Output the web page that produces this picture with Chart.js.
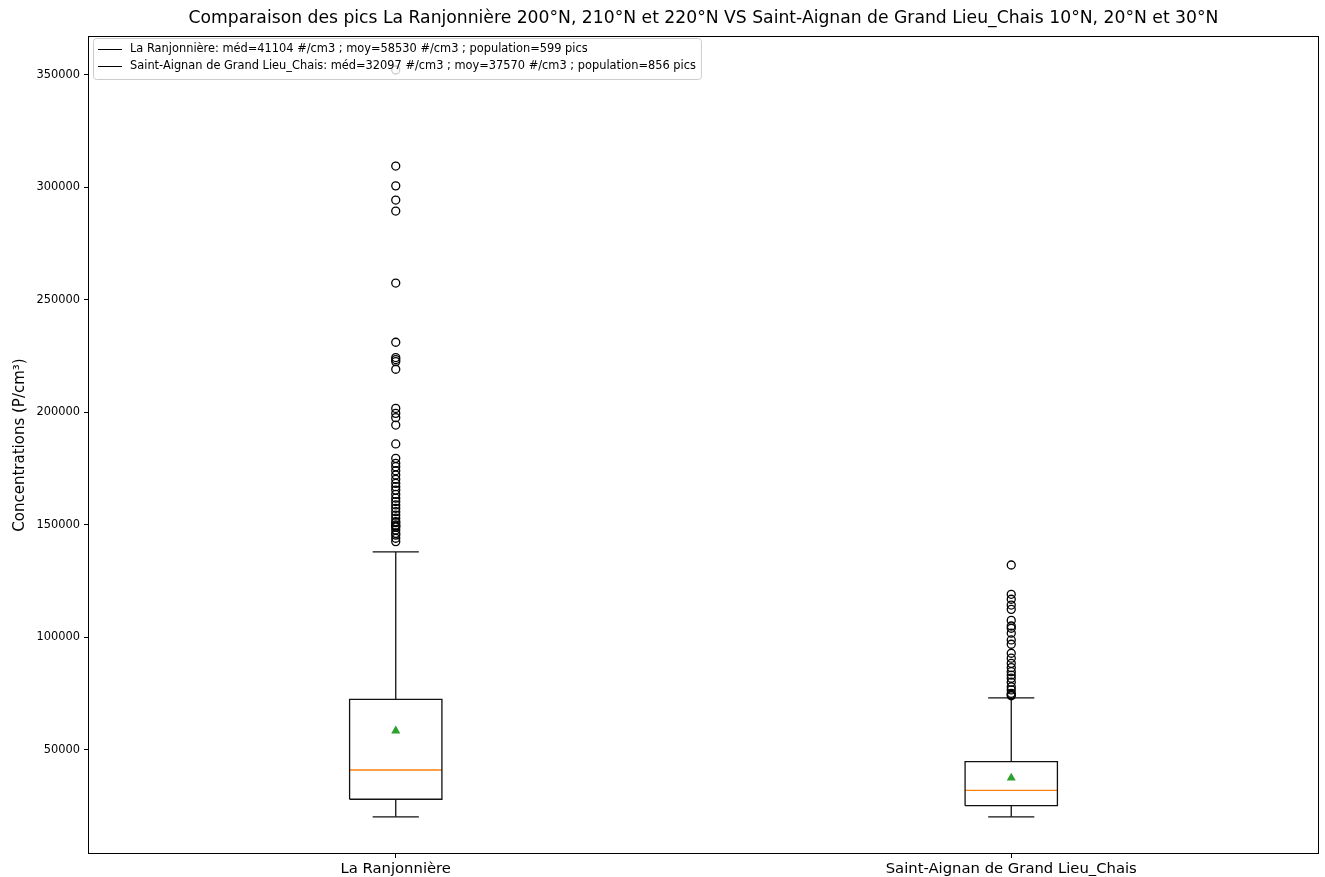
<!DOCTYPE html>
<html><head><meta charset="utf-8">
<script src="https://cdn.jsdelivr.net/npm/chart.js@4/dist/chart.umd.min.js"></script>
<style>html,body{margin:0;padding:0;background:#fff;overflow:hidden}</style>
</head><body>
<canvas id="c" width="1325" height="877"></canvas>
<script>
// ---- data ----
const categories = ['La Ranjonnière', 'Saint-Aignan de Grand Lieu_Chais'];
const positions = [1, 2];
const q1 = [28100, 25250];
const medians = [41104, 32097];
const q3 = [72500, 44800];
const whiskerLow = [20300, 20300];
const whiskerHigh = [138000, 73200];
const means = [58530, 37570];
const populations = [599, 856];
const outliersA = [352200, 309500, 300700, 294400, 289500, 257500, 231200, 224400, 223500, 222600,
  219200, 201800, 199600, 197700, 194400, 186000, 179600, 177400, 175900, 174100, 172200, 170300,
  168500, 167000, 165500, 163600, 161900, 160400, 158900, 157400, 155900, 154400, 153000, 151500,
  151000, 150000, 149500, 149000, 147800, 146300, 145500, 144100, 142600];
const outliersB = [132200, 119200, 117000, 114400, 112500, 107600, 105100, 104100, 101900, 98900,
  97000, 93000, 90800, 88500, 86600, 84800, 83300, 81900, 80100, 78100, 76700, 75200, 74500, 74100];
const outliers = [outliersA, outliersB];
const yTicks = [50000, 100000, 150000, 200000, 250000, 300000, 350000];
const yMin = 3778, yMax = 367300;
const titleText = 'Comparaison des pics La Ranjonnière 200°N, 210°N et 220°N VS Saint-Aignan de Grand Lieu_Chais 10°N, 20°N et 30°N';
const yTitle = 'Concentrations (P/cm³)';

// ---- styling constants ----
const BOX_W = 0.15, CAP_W = 0.075;
const FONT = "'DejaVu Sans', sans-serif";

const datasets = [];
function seg(points, color, width) {
  datasets.push({ type: 'scatter', data: points, showLine: true, borderColor: color,
    borderWidth: width, pointRadius: 0, fill: false, order: 2 });
}
categories.forEach((c, i) => {
  const p = positions[i];
  const h = BOX_W / 2, cw = CAP_W / 2;
  seg([{x:p-h,y:q1[i]},{x:p+h,y:q1[i]},{x:p+h,y:q3[i]},{x:p-h,y:q3[i]},{x:p-h,y:q1[i]}], '#111', 1.3);
  seg([{x:p,y:q1[i]},{x:p,y:whiskerLow[i]}], '#111', 1.3);
  seg([{x:p,y:q3[i]},{x:p,y:whiskerHigh[i]}], '#111', 1.3);
  seg([{x:p-cw,y:whiskerLow[i]},{x:p+cw,y:whiskerLow[i]}], '#111', 1.3);
  seg([{x:p-cw,y:whiskerHigh[i]},{x:p+cw,y:whiskerHigh[i]}], '#111', 1.3);
  seg([{x:p-h,y:medians[i]},{x:p+h,y:medians[i]}], '#ff7f0e', 1.3);
  datasets.push({ type: 'scatter', data: outliers[i].map(v => ({x:p, y:v})), pointStyle: 'circle',
    pointRadius: 4, borderWidth: 1.3, borderColor: '#000', backgroundColor: 'rgba(0,0,0,0)', order: 1 });
  datasets.push({ type: 'scatter', data: [{x:p, y:means[i]}], pointStyle: 'triangle',
    pointRadius: 5.2, borderWidth: 0, backgroundColor: '#2ca02c', borderColor: '#2ca02c', order: 0 });
});

const legendLabels = categories.map((c, i) =>
  `${c}: méd=${medians[i]} #/cm3 ; moy=${means[i]} #/cm3 ; population=${populations[i]} pics`);

const framePlugin = {
  id: 'frameAndLegend',
  afterDraw(chart) {
    const ctx = chart.ctx, a = chart.chartArea;
    ctx.save();
    // axes frame
    ctx.strokeStyle = '#000'; ctx.lineWidth = 1;
    ctx.strokeRect(Math.round(a.left) + 0.5, Math.round(a.top) + 0.5,
      Math.round(a.right - a.left) - 1, Math.round(a.bottom - a.top) - 1);
    // title, centred over the plot area
    ctx.font = '17.2px ' + FONT;
    ctx.fillStyle = '#000'; ctx.textAlign = 'center'; ctx.textBaseline = 'middle';
    ctx.fillText(titleText, (a.left + a.right) / 2, 19);
    // legend
    ctx.font = '11.4px ' + FONT;
    const tw = Math.max(...legendLabels.map(t => ctx.measureText(t).width));
    const lx = Math.round(a.left) + 5.5, ly = Math.round(a.top) + 2.5, rowH = 17;
    const w = 38 + tw + 4, hgt = legendLabels.length * rowH + 7;
    ctx.beginPath();
    if (ctx.roundRect) ctx.roundRect(lx, ly, w, hgt, 3); else ctx.rect(lx, ly, w, hgt);
    ctx.fillStyle = 'rgba(255,255,255,0.8)'; ctx.fill();
    ctx.strokeStyle = '#cccccc'; ctx.lineWidth = 1; ctx.stroke();
    legendLabels.forEach((t, i) => {
      const yy = Math.round(ly + 10 + i * rowH);
      ctx.beginPath(); ctx.moveTo(lx + 4.5, yy + 0.5); ctx.lineTo(lx + 28.5, yy + 0.5);
      ctx.strokeStyle = '#000'; ctx.lineWidth = 1; ctx.stroke();
      ctx.fillStyle = '#000'; ctx.textBaseline = 'middle'; ctx.textAlign = 'left';
      ctx.fillText(t, lx + 36.5, yy + 0.5);
    });
    ctx.restore();
  }
};

new Chart(document.getElementById('c'), {
  type: 'scatter',
  data: { datasets },
  plugins: [framePlugin],
  options: {
    responsive: false, animation: false, events: [],
    layout: { padding: { left: 0, right: 6, top: 36, bottom: 0 } },
    plugins: {
      legend: { display: false }, tooltip: { enabled: false }, title: { display: false }
    },
    scales: {
      x: {
        type: 'linear', min: 0.5, max: 2.5,
        afterBuildTicks: s => { s.ticks = positions.map(v => ({ value: v })); },
        afterFit: s => { s.height = 23; },
        ticks: { callback: (v, idx) => categories[idx], color: '#000', maxRotation: 0, autoSkip: false,
          font: { family: FONT, size: 14.8 }, padding: 2 },
        grid: { drawOnChartArea: false, drawTicks: true, tickLength: 4, color: '#000' },
        border: { display: false }
      },
      y: {
        type: 'linear', min: yMin, max: yMax,
        afterBuildTicks: s => { s.ticks = yTicks.map(v => ({ value: v })); },
        afterFit: s => { s.width = 88; },
        ticks: { callback: v => String(v), color: '#000', font: { family: FONT, size: 11.4 }, padding: 4 },
        grid: { drawOnChartArea: false, drawTicks: true, tickLength: 4, color: '#000' },
        border: { display: false },
        title: { display: true, text: yTitle, color: '#000', font: { family: FONT, size: 15 },
          padding: { top: 11, bottom: 0 } }
      }
    }
  }
});
</script>
</body></html>
